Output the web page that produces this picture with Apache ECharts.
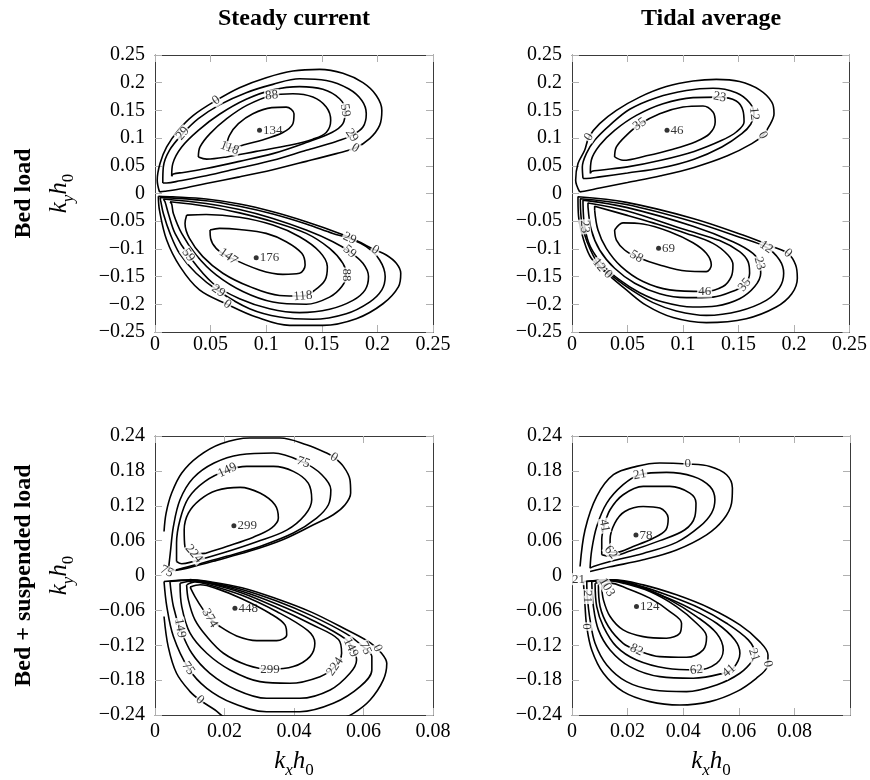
<!DOCTYPE html>
<html>
<head>
<meta charset="utf-8">
<script src="https://cdn.jsdelivr.net/npm/echarts@6/dist/echarts.min.js"></script>
<style>html,body{margin:0;padding:0;background:#fff}#c{width:870px;height:780px}</style>
</head>
<body>
<div id="c"></div>
<script>
// ---------- tick labels ----------
const bedXTicks = [0, 0.05, 0.1, 0.15, 0.2, 0.25];
const bedYTicks = [-0.25, -0.2, -0.15, -0.1, -0.05, 0, 0.05, 0.1, 0.15, 0.2, 0.25];
const susXTicks = [0, 0.02, 0.04, 0.06, 0.08];
const susYTicks = [-0.24, -0.18, -0.12, -0.06, 0, 0.06, 0.12, 0.18, 0.24];
const susTidalXMax = 0.1;

// ---------- panel titles ----------
const colTitles = ['Steady current', 'Tidal average'];
const rowTitles = ['Bed load', 'Bed + suspended load'];

// ---------- Panel 1: steady current, bed load ----------
const sbU0 = [[0.004,0.003],[0.002,0.024],[0.0045,0.054],[0.0105,0.084],[0.021,0.114],[0.0345,0.141],[0.055,0.168],[0.076,0.191],[0.100,0.209],[0.124,0.221],[0.148,0.224],[0.169,0.217],[0.187,0.200],[0.199,0.177],[0.204,0.150],[0.202,0.123],[0.193,0.099],[0.180,0.082],[0.163,0.072],[0.136,0.058],[0.106,0.043],[0.076,0.030],[0.046,0.018],[0.022,0.008],[0.009,0.004],[0.004,0.003]];
const sbU29 = [[0.007,0.019],[0.0075,0.048],[0.013,0.078],[0.025,0.108],[0.039,0.135],[0.058,0.160],[0.082,0.182],[0.106,0.197],[0.130,0.207],[0.154,0.204],[0.174,0.189],[0.186,0.168],[0.190,0.144],[0.187,0.120],[0.177,0.105],[0.163,0.094],[0.136,0.078],[0.106,0.060],[0.076,0.046],[0.046,0.032],[0.0225,0.023],[0.0105,0.019],[0.007,0.019]];
const sbU59 = [[0.015,0.031],[0.016,0.054],[0.024,0.084],[0.039,0.114],[0.058,0.143],[0.082,0.170],[0.106,0.187],[0.130,0.193],[0.151,0.188],[0.166,0.171],[0.171,0.150],[0.169,0.126],[0.159,0.110],[0.136,0.092],[0.106,0.072],[0.076,0.058],[0.046,0.045],[0.0255,0.038],[0.0165,0.035],[0.015,0.031]];
const sbU88 = [[0.039,0.066],[0.0405,0.084],[0.0495,0.108],[0.0645,0.135],[0.0825,0.159],[0.105,0.177],[0.124,0.180],[0.142,0.174],[0.154,0.156],[0.158,0.132],[0.154,0.110],[0.142,0.098],[0.121,0.087],[0.091,0.076],[0.0645,0.066],[0.0465,0.062],[0.039,0.066]];
const sbU118 = [[0.064,0.084],[0.067,0.105],[0.075,0.126],[0.088,0.144],[0.105,0.155],[0.118,0.156],[0.125,0.144],[0.124,0.126],[0.115,0.110],[0.100,0.099],[0.082,0.089],[0.067,0.082],[0.064,0.084]];
const sbL0 = [[0.003,-0.005],[0.016,-0.006],[0.046,-0.010],[0.076,-0.019],[0.106,-0.033],[0.136,-0.051],[0.166,-0.072],[0.181,-0.085],[0.198,-0.102],[0.208,-0.111],[0.217,-0.126],[0.221,-0.144],[0.219,-0.168],[0.205,-0.199],[0.181,-0.226],[0.151,-0.238],[0.121,-0.238],[0.091,-0.223],[0.065,-0.200],[0.040,-0.174],[0.0225,-0.132],[0.0105,-0.084],[0.004,-0.030],[0.003,-0.005]];
const sbL29 = [[0.0045,-0.007],[0.046,-0.013],[0.076,-0.023],[0.106,-0.037],[0.136,-0.055],[0.160,-0.072],[0.175,-0.081],[0.190,-0.096],[0.202,-0.120],[0.207,-0.150],[0.204,-0.174],[0.193,-0.196],[0.172,-0.217],[0.142,-0.227],[0.112,-0.223],[0.085,-0.208],[0.057,-0.176],[0.037,-0.144],[0.022,-0.108],[0.0135,-0.072],[0.0075,-0.036],[0.005,-0.012],[0.0045,-0.007]];
const sbL59 = [[0.0075,-0.010],[0.046,-0.018],[0.076,-0.029],[0.106,-0.045],[0.136,-0.066],[0.160,-0.087],[0.175,-0.105],[0.187,-0.126],[0.192,-0.150],[0.189,-0.174],[0.178,-0.193],[0.157,-0.209],[0.130,-0.215],[0.103,-0.208],[0.076,-0.190],[0.052,-0.162],[0.030,-0.111],[0.018,-0.072],[0.012,-0.036],[0.009,-0.015],[0.0075,-0.010]];
const sbL88 = [[0.0135,-0.015],[0.046,-0.023],[0.076,-0.035],[0.106,-0.051],[0.136,-0.072],[0.157,-0.099],[0.169,-0.126],[0.172,-0.147],[0.168,-0.168],[0.157,-0.187],[0.136,-0.200],[0.106,-0.196],[0.079,-0.177],[0.055,-0.147],[0.037,-0.111],[0.024,-0.072],[0.0165,-0.036],[0.015,-0.019],[0.0135,-0.015]];
const sbL118 = [[0.0285,-0.039],[0.046,-0.038],[0.076,-0.043],[0.106,-0.057],[0.130,-0.078],[0.148,-0.105],[0.155,-0.132],[0.153,-0.156],[0.144,-0.174],[0.133,-0.185],[0.112,-0.184],[0.085,-0.168],[0.061,-0.144],[0.043,-0.114],[0.031,-0.081],[0.027,-0.054],[0.0285,-0.039]];
const sbL147 = [[0.0495,-0.066],[0.058,-0.063],[0.076,-0.065],[0.100,-0.072],[0.118,-0.087],[0.132,-0.108],[0.135,-0.129],[0.130,-0.144],[0.115,-0.146],[0.094,-0.138],[0.066,-0.114],[0.055,-0.099],[0.050,-0.081],[0.0495,-0.066]];
const sbLabels = [[0.055,0.168,'0',35],[0.025,0.108,'29',50],[0.105,0.177,'88',5],[0.171,0.150,'59',-80],[0.177,0.105,'29',-55],[0.180,0.082,'0',-30],[0.067,0.082,'118',-20],
  [0.175,-0.081,'29',-25],[0.198,-0.102,'0',-30],[0.175,-0.105,'59',-40],[0.172,-0.147,'88',-90],[0.133,-0.185,'118',5],[0.066,-0.114,'147',-35],[0.030,-0.111,'59',-55],[0.057,-0.176,'29',-35],[0.065,-0.200,'0',-35]];
const sbPeaks = [[0.094,0.114,'134'],[0.091,-0.116,'176']];

// ---------- Panel 2: tidal average, bed load ----------
const tbU0 = [[0.0069,0.003],[0.0033,0.024],[0.0054,0.054],[0.0114,0.078],[0.0153,0.102],[0.0249,0.126],[0.040,0.150],[0.061,0.174],[0.085,0.193],[0.109,0.203],[0.130,0.206],[0.151,0.202],[0.169,0.187],[0.180,0.165],[0.182,0.144],[0.178,0.123],[0.172,0.105],[0.162,0.090],[0.140,0.068],[0.110,0.047],[0.080,0.032],[0.050,0.020],[0.025,0.010],[0.011,0.004],[0.0069,0.003]];
const tbU12 = [[0.0099,0.027],[0.0093,0.048],[0.0129,0.072],[0.0204,0.096],[0.0339,0.123],[0.052,0.152],[0.076,0.173],[0.103,0.186],[0.127,0.190],[0.148,0.182],[0.160,0.164],[0.164,0.144],[0.161,0.125],[0.153,0.108],[0.135,0.084],[0.110,0.062],[0.080,0.046],[0.050,0.037],[0.025,0.030],[0.013,0.027],[0.0099,0.027]];
const tbU23 = [[0.0165,0.036],[0.0174,0.060],[0.0249,0.087],[0.0384,0.114],[0.058,0.141],[0.082,0.162],[0.109,0.173],[0.133,0.174],[0.148,0.167],[0.154,0.150],[0.155,0.129],[0.148,0.111],[0.135,0.096],[0.110,0.076],[0.080,0.060],[0.050,0.048],[0.025,0.042],[0.018,0.040],[0.0165,0.036]];
const tbU35 = [[0.0384,0.066],[0.040,0.084],[0.049,0.105],[0.061,0.125],[0.079,0.144],[0.100,0.156],[0.118,0.158],[0.127,0.147],[0.129,0.129],[0.124,0.108],[0.112,0.094],[0.091,0.080],[0.067,0.068],[0.046,0.060],[0.0384,0.066]];
const tbL0 = [[0.0054,-0.012],[0.0063,-0.048],[0.0105,-0.084],[0.0174,-0.117],[0.0324,-0.146],[0.049,-0.174],[0.067,-0.202],[0.091,-0.224],[0.121,-0.233],[0.157,-0.226],[0.184,-0.205],[0.198,-0.181],[0.203,-0.153],[0.2015,-0.129],[0.1946,-0.108],[0.181,-0.096],[0.154,-0.075],[0.109,-0.045],[0.049,-0.016],[0.0054,-0.006],[0.0054,-0.012]];
const tbL12 = [[0.0075,-0.015],[0.0087,-0.051],[0.0135,-0.087],[0.0243,-0.129],[0.0369,-0.150],[0.0535,-0.174],[0.073,-0.197],[0.094,-0.212],[0.121,-0.220],[0.151,-0.212],[0.175,-0.193],[0.187,-0.170],[0.1907,-0.144],[0.187,-0.120],[0.175,-0.097],[0.151,-0.079],[0.109,-0.051],[0.049,-0.020],[0.0075,-0.0096],[0.0075,-0.015]];
const tbL23 = [[0.0099,-0.018],[0.0114,-0.060],[0.0165,-0.096],[0.0279,-0.129],[0.0429,-0.156],[0.061,-0.179],[0.082,-0.196],[0.109,-0.205],[0.130,-0.203],[0.151,-0.190],[0.1646,-0.168],[0.170,-0.144],[0.169,-0.126],[0.163,-0.108],[0.145,-0.087],[0.109,-0.059],[0.049,-0.025],[0.0099,-0.012],[0.0099,-0.018]];
const tbL35 = [[0.0144,-0.024],[0.0174,-0.066],[0.0249,-0.102],[0.0384,-0.135],[0.0565,-0.162],[0.079,-0.181],[0.103,-0.188],[0.127,-0.187],[0.148,-0.174],[0.1556,-0.165],[0.160,-0.144],[0.1586,-0.123],[0.151,-0.105],[0.133,-0.085],[0.103,-0.066],[0.049,-0.031],[0.0144,-0.017],[0.0144,-0.024]];
const tbL46 = [[0.0204,-0.030],[0.0234,-0.066],[0.0309,-0.099],[0.0444,-0.132],[0.064,-0.159],[0.088,-0.174],[0.1195,-0.177],[0.136,-0.168],[0.1435,-0.150],[0.145,-0.129],[0.1405,-0.111],[0.127,-0.090],[0.103,-0.072],[0.073,-0.053],[0.049,-0.039],[0.0204,-0.023],[0.0204,-0.030]];
const tbL58 = [[0.0384,-0.066],[0.040,-0.084],[0.0474,-0.102],[0.058,-0.114],[0.079,-0.129],[0.103,-0.140],[0.121,-0.141],[0.1255,-0.129],[0.121,-0.108],[0.109,-0.089],[0.088,-0.069],[0.064,-0.055],[0.0459,-0.053],[0.0384,-0.066]];
const tbLabels = [[0.0153,0.102,'0',60],[0.061,0.125,'35',35],[0.133,0.174,'23',-10],[0.164,0.144,'12',-85],[0.172,0.105,'0',-60],
  [0.175,-0.097,'12',-35],[0.1946,-0.108,'0',-40],[0.169,-0.126,'23',-75],[0.1556,-0.165,'35',50],[0.1195,-0.177,'46',0],[0.058,-0.114,'58',-30],[0.0114,-0.060,'23',-85],[0.0243,-0.129,'12',-50],[0.0324,-0.146,'0',-45]];
const tbPeaks = [[0.0856,0.114,'46'],[0.078,-0.099,'69']];

// ---------- Panel 3: steady current, bed + suspended load ----------
const ssU0 = [[0.0026,0.0758],[0.0032,0.1074],[0.0048,0.1418],[0.0077,0.1763],[0.0125,0.2050],[0.0190,0.2268],[0.0273,0.2366],[0.0360,0.2366],[0.0436,0.2251],[0.0494,0.2107],[0.0515,0.2033],[0.0542,0.1877],[0.0561,0.1648],[0.0563,0.1418],[0.0547,0.1217],[0.0513,0.1045],[0.0456,0.0873],[0.0369,0.0620],[0.0273,0.0420],[0.0177,0.0260],[0.0101,0.0140],[0.0058,0.0086]];
const ssU75 = [[0.0038,0.0069],[0.0044,0.0385],[0.0053,0.0844],[0.0072,0.1303],[0.0110,0.1677],[0.0170,0.1935],[0.0245,0.2078],[0.0341,0.2107],[0.0427,0.1946],[0.0480,0.1734],[0.0506,0.1476],[0.0499,0.1217],[0.0465,0.0988],[0.0398,0.0730],[0.0302,0.0500],[0.0206,0.0330],[0.0120,0.0190],[0.0062,0.0098],[0.0038,0.0069]];
const ssU149 = [[0.0062,0.0241],[0.0062,0.0557],[0.0072,0.0959],[0.0096,0.1332],[0.0144,0.1619],[0.0208,0.1809],[0.0264,0.1877],[0.0341,0.1877],[0.0398,0.1791],[0.0441,0.1590],[0.0451,0.1303],[0.0432,0.1045],[0.0379,0.0780],[0.0293,0.0580],[0.0197,0.0390],[0.0110,0.0241],[0.0077,0.0201],[0.0062,0.0241]];
const ssU224 = [[0.0144,0.0380],[0.0110,0.0370],[0.0086,0.0500],[0.0084,0.0787],[0.0096,0.1074],[0.0129,0.1303],[0.0177,0.1464],[0.0245,0.1516],[0.0302,0.1418],[0.0345,0.1217],[0.0355,0.0988],[0.0336,0.0820],[0.0283,0.0660],[0.0206,0.0500],[0.0144,0.0380]];
const ssL0 = [[0.0026,-0.0706],[0.0038,-0.1223],[0.0062,-0.1682],[0.0101,-0.1998],[0.0129,-0.2142],[0.0173,-0.2314],[0.0206,-0.2457],[0.0341,-0.2572],[0.0532,-0.2457],[0.0571,-0.2371],[0.0619,-0.2142],[0.0657,-0.1797],[0.0667,-0.1510],[0.0652,-0.1338],[0.0620,-0.1160],[0.0550,-0.0930],[0.0450,-0.0630],[0.0350,-0.0400],[0.0250,-0.0210],[0.0150,-0.0100],[0.0100,-0.0070]];
const ssL75 = [[0.0026,-0.0103],[0.0034,-0.0534],[0.0053,-0.1051],[0.0096,-0.1596],[0.0149,-0.1941],[0.0225,-0.2199],[0.0321,-0.2343],[0.0417,-0.2343],[0.0513,-0.2199],[0.0590,-0.1912],[0.0624,-0.1625],[0.0624,-0.1395],[0.0600,-0.1230],[0.0550,-0.1000],[0.0450,-0.0690],[0.0350,-0.0440],[0.0250,-0.0240],[0.0150,-0.0110],[0.0100,-0.0075],[0.0026,-0.0103]];
const ssL149 = [[0.0043,-0.0103],[0.0053,-0.0534],[0.0072,-0.0907],[0.0106,-0.1338],[0.0158,-0.1682],[0.0235,-0.1969],[0.0321,-0.2113],[0.0417,-0.2113],[0.0504,-0.1969],[0.0561,-0.1682],[0.0580,-0.1453],[0.0571,-0.1280],[0.0550,-0.1100],[0.0450,-0.0760],[0.0350,-0.0490],[0.0250,-0.0270],[0.0150,-0.0120],[0.0100,-0.0080],[0.0043,-0.0103]];
const ssL224 = [[0.0072,-0.0132],[0.0077,-0.0534],[0.0101,-0.0993],[0.0149,-0.1338],[0.0216,-0.1625],[0.0302,-0.1826],[0.0388,-0.1855],[0.0475,-0.1740],[0.0518,-0.1567],[0.0537,-0.1338],[0.0528,-0.1100],[0.0450,-0.0840],[0.0350,-0.0550],[0.0250,-0.0300],[0.0150,-0.0130],[0.0110,-0.0095],[0.0072,-0.0132]];
const ssL299 = [[0.0091,-0.0161],[0.0096,-0.0419],[0.0115,-0.0764],[0.0149,-0.1051],[0.0197,-0.1338],[0.0264,-0.1539],[0.0331,-0.1613],[0.0398,-0.1567],[0.0446,-0.1395],[0.0460,-0.1166],[0.0440,-0.0950],[0.0350,-0.0620],[0.0250,-0.0340],[0.0150,-0.0150],[0.0115,-0.0110],[0.0091,-0.0161]];
const ssL374 = [[0.0101,-0.0200],[0.0115,-0.0362],[0.0139,-0.0591],[0.0158,-0.0735],[0.0187,-0.0878],[0.0235,-0.1039],[0.0293,-0.1120],[0.0350,-0.1120],[0.0379,-0.1022],[0.0374,-0.0850],[0.0330,-0.0650],[0.0250,-0.0400],[0.0180,-0.0230],[0.0130,-0.0160],[0.0101,-0.0200]];
const ssLabels = [[0.0515,0.2033,'0',-30],[0.0427,0.1946,'75',-20],[0.0208,0.1809,'149',25],[0.0112,0.0372,'224',-50],[0.0034,0.0069,'75',-25],
  [0.0158,-0.0735,'374',-60],[0.0331,-0.1613,'299',0],[0.0518,-0.1567,'224',55],[0.0563,-0.1240,'149',-65],[0.0605,-0.1250,'75',-65],[0.0640,-0.1250,'0',-65],[0.0072,-0.0907,'149',-80],[0.0096,-0.1596,'75',-55],[0.0129,-0.2142,'0',-40]];
const ssPeaks = [[0.0227,0.0856,'299'],[0.0230,-0.0563,'448']];

// ---------- Panel 4: tidal average, bed + suspended load ----------
const tsU0 = [[0.0029,0.0155],[0.0047,0.0787],[0.0089,0.1361],[0.0149,0.1734],[0.0232,0.1877],[0.0316,0.1935],[0.0416,0.1918],[0.0496,0.1877],[0.0556,0.1734],[0.0577,0.1504],[0.0574,0.1246],[0.0544,0.0959],[0.0484,0.0700],[0.0376,0.0440],[0.0256,0.0270],[0.0137,0.0150],[0.0065,0.0069]];
const tsU21 = [[0.0065,0.0126],[0.0071,0.0442],[0.0089,0.0844],[0.0125,0.1246],[0.0184,0.1562],[0.0244,0.1734],[0.0340,0.1774],[0.0436,0.1705],[0.0496,0.1533],[0.0514,0.1303],[0.0502,0.1074],[0.0460,0.0844],[0.0376,0.0570],[0.0256,0.0380],[0.0137,0.0241],[0.0077,0.0155],[0.0065,0.0126]];
const tsU41 = [[0.0107,0.0356],[0.0107,0.0614],[0.0116,0.0856],[0.0137,0.1131],[0.0184,0.1389],[0.0256,0.1533],[0.0352,0.1533],[0.0424,0.1418],[0.0446,0.1246],[0.0442,0.1016],[0.0406,0.0787],[0.0316,0.0600],[0.0208,0.0420],[0.0137,0.0330],[0.0107,0.0356]];
const tsU62 = [[0.0137,0.0400],[0.0137,0.0614],[0.0154,0.0901],[0.0190,0.1102],[0.0256,0.1188],[0.0316,0.1160],[0.0346,0.0988],[0.0338,0.0787],[0.0292,0.0640],[0.0220,0.0500],[0.0160,0.0400],[0.0137,0.0400]];
const tsL0 = [[0.0041,-0.0103],[0.0047,-0.0534],[0.0053,-0.0878],[0.0071,-0.1280],[0.0113,-0.1682],[0.0184,-0.1998],[0.0280,-0.2170],[0.0388,-0.2228],[0.0496,-0.2170],[0.0592,-0.1998],[0.0663,-0.1768],[0.0702,-0.1567],[0.0705,-0.1366],[0.0675,-0.1137],[0.0604,-0.0850],[0.0496,-0.0563],[0.0376,-0.0333],[0.0256,-0.0161],[0.0149,-0.0075],[0.0041,-0.0103]];
const tsL21 = [[0.0053,-0.0103],[0.0055,-0.0362],[0.0065,-0.0764],[0.0083,-0.1166],[0.0125,-0.1539],[0.0196,-0.1826],[0.0292,-0.1969],[0.0412,-0.1998],[0.0520,-0.1883],[0.0604,-0.1682],[0.0651,-0.1453],[0.0657,-0.1338],[0.0634,-0.1108],[0.0556,-0.0821],[0.0460,-0.0563],[0.0340,-0.0333],[0.0232,-0.0161],[0.0137,-0.0075],[0.0053,-0.0103]];
const tsL41 = [[0.0071,-0.0103],[0.0077,-0.0534],[0.0095,-0.0936],[0.0137,-0.1280],[0.0208,-0.1567],[0.0316,-0.1740],[0.0436,-0.1768],[0.0544,-0.1682],[0.0580,-0.1596],[0.0604,-0.1338],[0.0586,-0.1108],[0.0520,-0.0821],[0.0424,-0.0563],[0.0316,-0.0333],[0.0220,-0.0161],[0.0137,-0.0075],[0.0071,-0.0103]];
const tsL62 = [[0.0083,-0.0132],[0.0089,-0.0534],[0.0113,-0.0878],[0.0160,-0.1223],[0.0232,-0.1453],[0.0340,-0.1596],[0.0448,-0.1625],[0.0520,-0.1510],[0.0544,-0.1280],[0.0520,-0.0993],[0.0448,-0.0706],[0.0352,-0.0419],[0.0244,-0.0189],[0.0149,-0.0086],[0.0083,-0.0132]];
const tsL82 = [[0.0095,-0.0161],[0.0101,-0.0534],[0.0131,-0.0878],[0.0184,-0.1166],[0.0232,-0.1280],[0.0316,-0.1395],[0.0412,-0.1407],[0.0472,-0.1280],[0.0484,-0.1051],[0.0448,-0.0821],[0.0376,-0.0534],[0.0280,-0.0276],[0.0184,-0.0132],[0.0125,-0.0086],[0.0095,-0.0161]];
const tsL103 = [[0.0107,-0.0189],[0.0113,-0.0419],[0.0137,-0.0706],[0.0184,-0.0936],[0.0256,-0.1051],[0.0340,-0.1079],[0.0388,-0.0993],[0.0394,-0.0821],[0.0352,-0.0620],[0.0280,-0.0390],[0.0196,-0.0218],[0.0137,-0.0132],[0.0107,-0.0189]];
const tsLabels = [[0.0416,0.1918,'0',0],[0.0244,0.1734,'21',10],[0.0116,0.0856,'41',-80],[0.0140,0.0400,'62',-50],[0.0023,-0.0063,'21',0],
  [0.0055,-0.0362,'21',-90],[0.0053,-0.0878,'0',-90],[0.0125,-0.0200,'103',-60],[0.0232,-0.1280,'82',-25],[0.0448,-0.1625,'62',5],[0.0565,-0.1640,'41',40],[0.0655,-0.1366,'21',-70],[0.0704,-0.1520,'0',-80]];
const tsPeaks = [[0.0230,0.0695,'78'],[0.0232,-0.0534,'124']];

// ---------- build ----------
const SERIF = '"Liberation Serif", "Times New Roman", serif';
const panels = [
  { lines: [sbU0, sbU29, sbU59, sbU88, sbU118, sbL0, sbL29, sbL59, sbL88, sbL118, sbL147], labels: sbLabels, peaks: sbPeaks, xt: bedXTicks, yt: bedYTicks, xmax: bedXTicks[bedXTicks.length-1] },
  { lines: [tbU0, tbU12, tbU23, tbU35, tbL0, tbL12, tbL23, tbL35, tbL46, tbL58], labels: tbLabels, peaks: tbPeaks, xt: bedXTicks, yt: bedYTicks, xmax: bedXTicks[bedXTicks.length-1] },
  { lines: [ssU0, ssU75, ssU149, ssU224, ssL0, ssL75, ssL149, ssL224, ssL299, ssL374], labels: ssLabels, peaks: ssPeaks, xt: susXTicks, yt: susYTicks, xmax: susXTicks[susXTicks.length-1] },
  { lines: [tsU0, tsU21, tsU41, tsU62, tsL0, tsL21, tsL41, tsL62, tsL82, tsL103], labels: tsLabels, peaks: tsPeaks, xt: susXTicks, yt: susYTicks, xmax: susTidalXMax }
];
const gridBoxes = [
  {left: 155, top: 55, width: 278, height: 277},
  {left: 572, top: 55, width: 278, height: 277},
  {left: 155, top: 436, width: 278, height: 279},
  {left: 572, top: 436, width: 278, height: 279}
];
const xLabelMargin = [3, 3, 7, 7];

const fmt = ticks => v => {
  const t = ticks.find(t => Math.abs(t - v) < 1e-9);
  return t === undefined ? '' : String(t).replace('-', '\u2212');
};
const lineCol = '#3a3a3a';
const tickCol = '#b0b0b0';

const xAxes = [], yAxes = [], series = [];
panels.forEach((p, i) => {
  const xint = p.xt[1] - p.xt[0], yint = p.yt[1] - p.yt[0];
  const xmin = p.xt[0], ymin = p.yt[0], ymax = p.yt[p.yt.length-1];
  const common = (pos, showLabel, margin, ticks) => ({
    type: 'value', position: pos, splitLine: {show: false},
    axisLine: {show: true, onZero: false, lineStyle: {color: lineCol, width: 1}},
    axisTick: {show: true, inside: true, length: 7, lineStyle: {color: tickCol, width: 1}},
    axisLabel: {show: showLabel, margin: margin, fontFamily: SERIF, fontSize: 20, color: '#000', formatter: fmt(ticks)}
  });
  xAxes[i] = Object.assign(common('bottom', true, xLabelMargin[i], p.xt), {gridIndex: i, min: xmin, max: p.xmax, interval: xint});
  xAxes[i + 4] = Object.assign(common('top', false, 0, p.xt), {gridIndex: i, min: xmin, max: p.xmax, interval: xint});
  yAxes[i] = Object.assign(common('left', true, 10, p.yt), {gridIndex: i, min: ymin, max: ymax, interval: yint});
  yAxes[i + 4] = Object.assign(common('right', false, 0, p.yt), {gridIndex: i, min: ymin, max: ymax, interval: yint});

  p.lines.forEach(pts => series.push({
    type: 'line', xAxisIndex: i, yAxisIndex: i, data: pts, smooth: 0.35,
    symbol: 'none', showSymbol: false, clip: true, silent: true, z: 2,
    lineStyle: {color: '#000', width: 1.6}
  }));
  series.push({
    type: 'scatter', xAxisIndex: i, yAxisIndex: i, z: 5, silent: true,
    symbolSize: 1, itemStyle: {color: 'rgba(0,0,0,0)'},
    label: {show: true, position: 'inside', fontFamily: SERIF, fontSize: 13, color: '#000',
            backgroundColor: '#fff', padding: [0, 1, -1, 1]},
    data: p.labels.map(l => ({value: [l[0], l[1]], label: {rotate: l[3], formatter: l[2]}}))
  });
  series.push({
    type: 'scatter', xAxisIndex: i, yAxisIndex: i, z: 6, silent: true,
    symbol: 'circle', symbolSize: 5, itemStyle: {color: '#000'},
    label: {show: true, position: 'right', distance: 1, fontFamily: SERIF, fontSize: 13, color: '#000'},
    data: p.peaks.map(pk => ({value: [pk[0], pk[1]], label: {formatter: pk[2]}}))
  });
});

const richK = (sub) => ({
  text: '{i|k}{s|' + sub + '}{i|h}{su|0}',
  rich: {
    i: {fontFamily: SERIF, fontStyle: 'italic', fontSize: 25, lineHeight: 30, verticalAlign: 'top', fill: '#000', color: '#000'},
    s: {fontFamily: SERIF, fontStyle: 'italic', fontSize: 17, lineHeight: 17, verticalAlign: 'bottom', fill: '#000', color: '#000'},
    su: {fontFamily: SERIF, fontSize: 17, lineHeight: 17, verticalAlign: 'bottom', fill: '#000', color: '#000'}
  }
});

const graphics = [];
colTitles.forEach((t, c) => {
  const g = gridBoxes[c];
  graphics.push({type: 'text', x: g.left + g.width / 2, y: 19, style: {text: t, font: 'bold 24px ' + SERIF, fill: '#000', textAlign: 'center', textVerticalAlign: 'middle', align: 'center', verticalAlign: 'middle'}});
  const gb = gridBoxes[c + 2];
  graphics.push({type: 'text', x: gb.left + gb.width / 2, y: 764, style: Object.assign(richK('x'), {textAlign: 'center', textVerticalAlign: 'middle', align: 'center', verticalAlign: 'middle'})});
});
rowTitles.forEach((t, r) => {
  const g = gridBoxes[r * 2];
  const cy = g.top + g.height / 2;
  graphics.push({type: 'text', x: 24, y: cy, rotation: Math.PI / 2, style: {text: t, font: 'bold 24px ' + SERIF, fill: '#000', textAlign: 'center', textVerticalAlign: 'middle', align: 'center', verticalAlign: 'middle'}});
  graphics.push({type: 'text', x: 62, y: cy, rotation: Math.PI / 2, style: Object.assign(richK('y'), {textAlign: 'center', textVerticalAlign: 'middle', align: 'center', verticalAlign: 'middle'})});
});

const chart = echarts.init(document.getElementById('c'), null, {renderer: 'canvas'});
chart.setOption({
  animation: false,
  backgroundColor: '#fff',
  grid: gridBoxes.map(g => Object.assign({containLabel: false}, g)),
  xAxis: xAxes,
  yAxis: yAxes,
  series: series,
  graphic: graphics
});
</script>
</body>
</html>
